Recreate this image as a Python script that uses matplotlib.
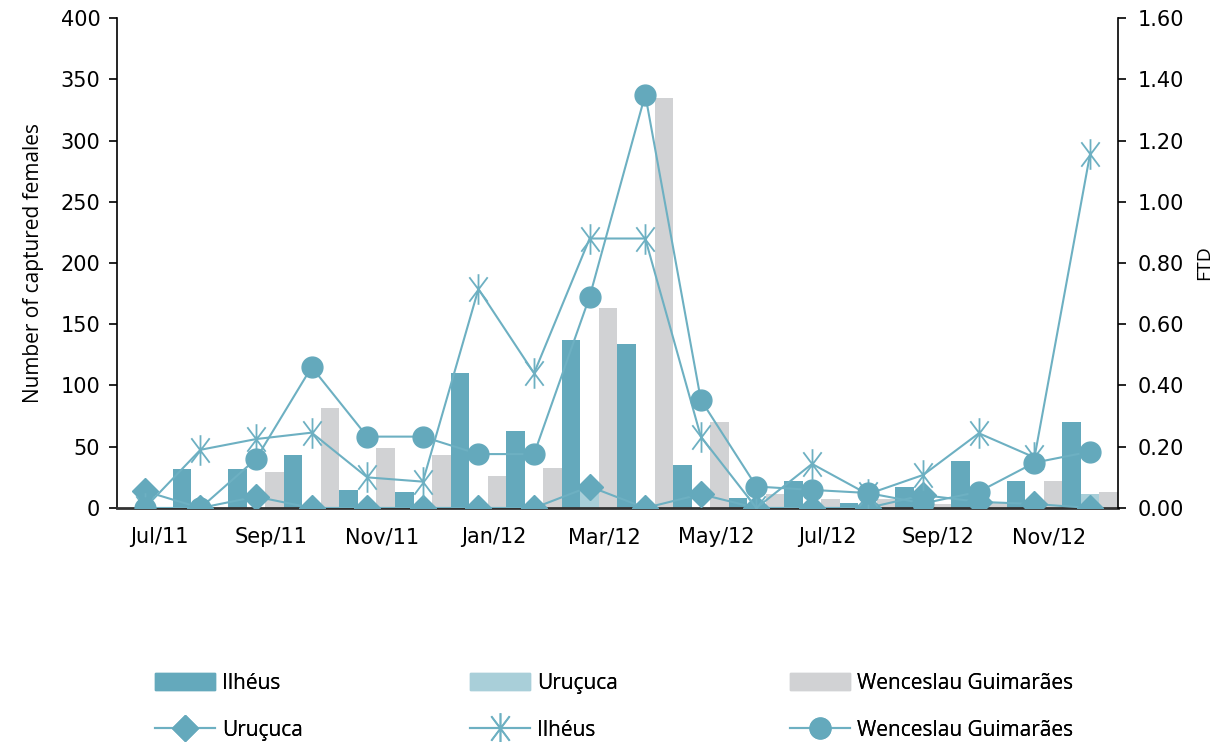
import matplotlib.pyplot as plt
import numpy as np
from matplotlib.lines import Line2D
from matplotlib.patches import Patch
from matplotlib.path import Path

plt.rcParams['font.family'] = ['Open Sans', 'DejaVu Sans']

months = ['Jul/11', 'Aug/11', 'Sep/11', 'Oct/11', 'Nov/11', 'Dec/11',
          'Jan/12', 'Feb/12', 'Mar/12', 'Apr/12', 'May/12', 'Jun/12',
          'Jul/12', 'Aug/12', 'Sep/12', 'Oct/12', 'Nov/12', 'Dec/12']
tick_labels = ['Jul/11', 'Sep/11', 'Nov/11', 'Jan/12', 'Mar/12',
               'May/12', 'Jul/12', 'Sep/12', 'Nov/12']

# captured females (left axis)
ilheus_bar = [0, 32, 32, 43, 15, 13, 110, 63, 137, 134, 35, 8, 22, 4, 17, 38, 22, 70]
urucuca_bar = [0, 0, 0, 0, 0, 0, 0, 0, 17, 0, 0, 0, 0, 0, 0, 0, 0, 11]
wences_bar = [0, 0, 29, 82, 49, 43, 26, 33, 163, 335, 70, 11, 7, 7, 3, 5, 22, 13]

# FTD (right axis)
urucuca_ftd = [0.055, 0, 0.037, 0, 0, 0, 0, 0, 0.07, 0, 0.045, 0, 0, 0, 0.042, 0.02, 0.013, 0]
ilheus_ftd = [0, 0.19, 0.225, 0.246, 0.10, 0.086, 0.715, 0.44, 0.88, 0.88, 0.233, 0,
              0.144, 0.045, 0.108, 0.244, 0.165, 1.156]
wences_ftd = [0, 0, 0.16, 0.46, 0.233, 0.233, 0.176, 0.176, 0.69, 1.35, 0.353, 0.07,
              0.059, 0.049, 0.015, 0.053, 0.148, 0.184]

c_dark = '#64a9bc'
c_light = '#a9cfd9'
c_gray = '#d1d2d4'
c_line = '#6db0c2'

# asterisk like the excel one: vertical stroke + steep X
star = Path([(0, -1), (0, 1), (-0.6, -0.8), (0.6, 0.8), (-0.6, 0.8), (0.6, -0.8)],
            [Path.MOVETO, Path.LINETO] * 3)

fig = plt.figure(figsize=(12.24, 7.42), dpi=100)
ax = fig.add_axes([0.0956, 0.3154, 0.8177, 0.6603])
ax2 = ax.twinx()

x = np.arange(len(months))
w = 1 / 3
ax.bar(x - w, ilheus_bar, w, color=c_dark, zorder=2)
ax.bar(x, urucuca_bar, w, color=c_light, zorder=2)
ax.bar(x + w, wences_bar, w, color=c_gray, zorder=2)

ax2.plot(x, urucuca_ftd, color=c_line, lw=1.5, marker='D', ms=13, mec=c_dark, mfc=c_dark)
ax2.plot(x, ilheus_ftd, color=c_line, lw=1.5, marker=star, ms=22, mec=c_line, mew=1.3)
ax2.plot(x, wences_ftd, color=c_line, lw=1.5, marker='o', ms=15, mec=c_dark, mfc=c_dark)

ax.set_xlim(-0.5, 17.5)
ax.set_ylim(0, 400)
ax2.set_ylim(0, 1.6)
ax.set_yticks(np.arange(0, 401, 50))
ax2.set_yticks(np.arange(0, 1.61, 0.2))
ax2.set_yticklabels(['%.2f' % v for v in np.arange(0, 1.61, 0.2)])

ax.set_xticks(np.arange(0, 18, 2) + 0.27)
ax.set_xticklabels(tick_labels, fontsize=15, family=['DejaVu Sans'])
ax.tick_params(axis='x', length=0, pad=14)
ax.tick_params(axis='y', labelsize=15, length=6, width=1.2, direction='out', pad=6)
ax2.tick_params(axis='y', labelsize=15, length=6, width=1.2, direction='out', pad=8)
for lab in ax.get_yticklabels() + ax2.get_yticklabels():
    lab.set_family(['DejaVu Sans'])

for a in (ax, ax2):
    a.spines['top'].set_visible(False)
ax.spines['right'].set_visible(False)
ax2.spines['left'].set_visible(False)
ax2.spines['bottom'].set_visible(False)
ax.spines['bottom'].set_color('#333333')
ax.spines['bottom'].set_linewidth(2)
ax.spines['left'].set_linewidth(1.2)
ax2.spines['right'].set_linewidth(1.2)

ax.set_ylabel('Number of captured females', fontsize=15, labelpad=12)
ax2.set_ylabel('FTD', fontsize=14, labelpad=8)

col_handles = [
    [Patch(color=c_dark, label='Ilhéus'),
     Line2D([], [], color=c_line, lw=1.5, marker='D', ms=13, mfc=c_dark, mec=c_dark, label='Uruçuca')],
    [Patch(color=c_light, label='Uruçuca'),
     Line2D([], [], color=c_line, lw=1.5, marker=star, ms=22, mec=c_line, mew=1.3, label='Ilhéus')],
    [Patch(color=c_gray, label='Wenceslau Guimarães'),
     Line2D([], [], color=c_line, lw=1.5, marker='o', ms=15, mfc=c_dark, mec=c_dark, label='Wenceslau Guimarães')],
]
col_x = [155, 470, 790]
for hs, cx in zip(col_handles, col_x):
    leg = fig.legend(handles=hs, loc='upper left', bbox_to_anchor=(cx / 1224, 1 - 673 / 742),
                     frameon=False, fontsize=15, handlelength=2.9, handleheight=0.9,
                     labelspacing=1.25, handletextpad=0.3, borderaxespad=0, borderpad=0)
    fig.add_artist(leg)

fig.savefig('out.png', dpi=100)
